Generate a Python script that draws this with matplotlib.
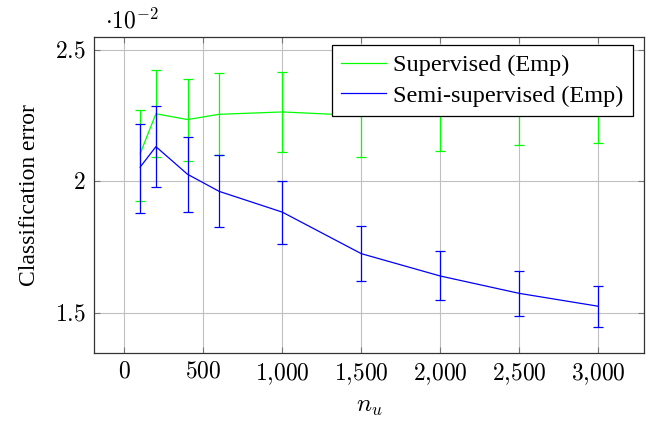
import matplotlib
matplotlib.use('Agg')
import matplotlib.pyplot as plt
from matplotlib.ticker import FuncFormatter
from matplotlib.lines import Line2D

plt.rcParams['mathtext.fontset'] = 'cm'
plt.rcParams['font.family'] = ['Liberation Serif', 'DejaVu Serif']

# values in units of 1e-2
n_u = [100, 200, 400, 600, 1000, 1500, 2000, 2500, 3000]

sup_mean = [2.105, 2.257, 2.235, 2.255, 2.264, 2.250, 2.265, 2.289, 2.295]
sup_lo = [1.927, 2.094, 2.079, 2.099, 2.110, 2.091, 2.115, 2.140, 2.147]
sup_hi = [2.270, 2.422, 2.388, 2.412, 2.416, 2.400, 2.415, 2.444, 2.444]

semi_mean = [2.054, 2.132, 2.027, 1.962, 1.883, 1.725, 1.640, 1.574, 1.525]
semi_lo = [1.880, 1.980, 1.883, 1.825, 1.762, 1.622, 1.550, 1.489, 1.446]
semi_hi = [2.219, 2.288, 2.168, 2.099, 2.003, 1.829, 1.735, 1.659, 1.601]

labels = ['Supervised (Emp)', 'Semi-supervised (Emp)']
colors = ['#00ff00', '#0000ff']

xticks = [0, 500, 1000, 1500, 2000, 2500, 3000]
yticks = [1.5, 2.0, 2.5]

fig = plt.figure(figsize=(6.68, 4.21), dpi=100)
ax = fig.add_axes([0.1407, 0.1608, 0.8234, 0.7513])

def err(mean, lo, hi):
    return [[m - l for m, l in zip(mean, lo)], [h - m for m, h in zip(mean, hi)]]

series = [(sup_mean, sup_lo, sup_hi), (semi_mean, semi_lo, semi_hi)]
for i, (m, lo, hi) in enumerate(series):
    ax.errorbar(n_u, m, yerr=err(m, lo, hi), color=colors[i],
                lw=0.9, elinewidth=0.9, capsize=3.6, capthick=0.9, zorder=3 + i)

ax.set_xlim(-192, 3290)
ax.set_ylim(1.346, 2.549)
ax.set_xticks(xticks)
ax.set_yticks(yticks)
ax.xaxis.set_major_formatter(FuncFormatter(lambda v, p: r'$%s$' % format(int(v), ',').replace(',', '{,}')))
ax.yaxis.set_major_formatter(FuncFormatter(lambda v, p: r'$%g$' % v))
ax.tick_params(direction='in', length=4, width=0.8, color='#777777',
               top=True, right=True, labelsize=17, pad=6)
ax.grid(True, color='#c0c0c0', lw=0.8)
ax.set_axisbelow(True)
for s in ax.spines.values():
    s.set_linewidth(0.9)
    s.set_color('#333333')

ax.set_xlabel(r'$n_u$', fontsize=18, labelpad=6)
ax.set_ylabel('Classification error', fontsize=17, labelpad=11)
fig.text(0.157, 0.95, r'$\cdot 10^{-2}$', fontsize=17, va='center')

handles = [Line2D([], [], color=c, lw=0.9) for c in colors]
leg = ax.legend(handles, labels, loc='upper right', bbox_to_anchor=(0.98, 0.975), fontsize=17.5,
                frameon=True, fancybox=False, framealpha=1, edgecolor='black',
                handlelength=1.85, borderpad=0.38, labelspacing=0.36, handletextpad=0.3,
                borderaxespad=0)
leg.get_frame().set_linewidth(0.9)

fig.savefig('out.png', dpi=100)
